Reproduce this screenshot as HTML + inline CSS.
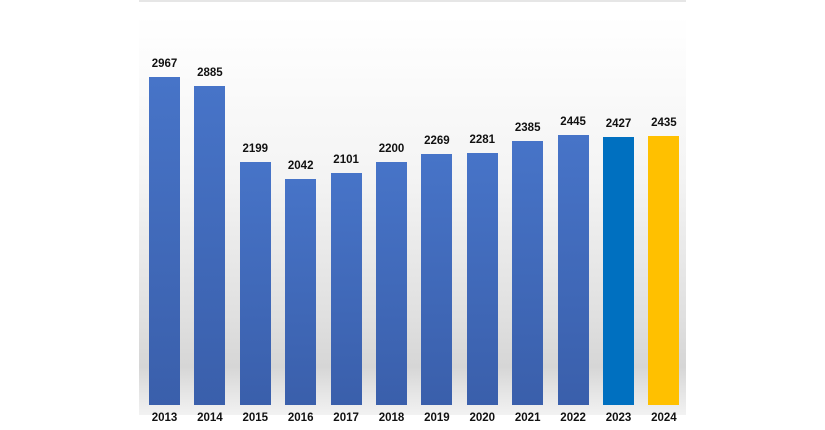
<!DOCTYPE html>
<html><head><style>
body{margin:0;width:825px;height:430px;background:#fff;position:relative;overflow:hidden;font-family:"Liberation Sans",Arial,sans-serif}
.bg{position:absolute;left:139px;top:15px;width:547px;height:400px;background:linear-gradient(#fff 0%,#f4f4f4 40%,#e0e0e0 75%,#d6d6d6 88%,#f2f2f2 100%)}
.tl{position:absolute;left:139px;top:0;width:547px;height:2px;background:#e6e6e6}
.b{position:absolute;width:31px;bottom:25px;background:linear-gradient(#4774c8,#3a5fab);}
.v,.y{position:absolute;width:50px;text-align:center;font-weight:bold;font-size:11.5px;color:#111}
</style></head><body>
<div class="tl"></div><div class="bg"></div>
<div id="c"></div>
<script>
var d=[2967,2885,2199,2042,2101,2200,2269,2281,2385,2445,2427,2435],h='';
d.forEach(function(v,i){var x=149+i*45.4,ht=v*0.1105,t=405-ht;
var bg=i==10?'background:#0070c0':i==11?'background:#ffc000':'';
h+='<div class="b" style="left:'+x+'px;top:'+t+'px;'+bg+'"></div>';
h+='<div class="v" style="left:'+(x-9.5)+'px;top:'+(t-19)+'px">'+v+'</div>';
h+='<div class="y" style="left:'+(x-9.5)+'px;top:412px">'+(2013+i)+'</div>';});
document.getElementById('c').innerHTML=h;
</script>
</body></html>
